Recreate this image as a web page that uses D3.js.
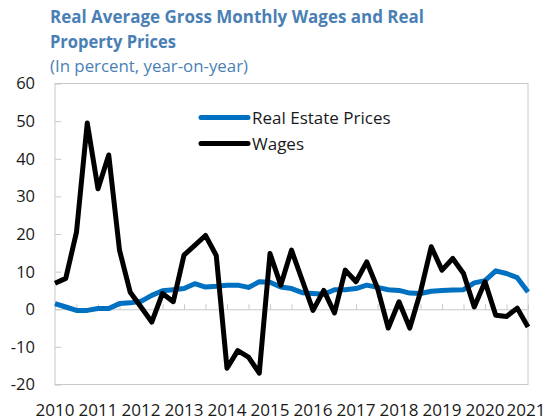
<!DOCTYPE html>
<html>
<head>
<meta charset="utf-8">
<script src="https://cdn.jsdelivr.net/npm/d3@7"></script>
<style>
  html, body { margin: 0; padding: 0; background: #fff; }
  svg { display: block; font-family: "Open Sans", "Noto Sans", sans-serif; }
</style>
</head>
<body>
<svg id="chart" width="546" height="420"></svg>
<script>
// Quarterly observations, 2010Q1 .. 2021Q1
const startYear = 2010;
const realEstatePrices = [
  1.5, 0.6, -0.3, -0.3, 0.2, 0.2, 1.5, 1.7, 2.1, 3.7, 4.9, 5.2,
  5.5, 6.8, 5.9, 6.1, 6.4, 6.4, 5.8, 7.3, 7.2, 5.9, 5.5, 4.4,
  4.2, 4.0, 5.2, 5.2, 5.5, 6.4, 5.8, 5.2, 5.0, 4.3, 4.2, 4.8,
  5.0, 5.1, 5.2, 7.0, 7.6, 10.2, 9.5, 8.4, 4.6
];
const wages = [
  6.9, 8.2, 20.5, 49.5, 32.0, 41.0, 15.7, 4.5, 0.6, -3.4, 4.2, 2.0,
  14.4, 17.0, 19.6, 14.3, -15.7, -11.0, -12.7, -17.0, 14.8, 6.4, 15.7, 7.7,
  -0.3, 5.0, -1.0, 10.4, 7.3, 12.6, 5.6, -5.0, 2.0, -5.0, 4.6, 16.6,
  10.4, 13.5, 9.5, 0.6, 7.3, -1.6, -1.9, 0.3, -4.7
];
const yearLabels = ["2010","2011","2012","2013","2014","2015","2016","2017","2018","2019","2020","2021"];
const yTicks = [-20, -10, 0, 10, 20, 30, 40, 50, 60];
const seriesNames = ["Real Estate Prices", "Wages"];
const seriesColors = ["#0070c0", "#000000"];

const svg = d3.select("#chart");
const W = 546;
const plotLeft = 55, plotRight = 528, plotTop = 83.5, plotBottom = 384.5;

const x = d3.scaleLinear().domain([2010, 2021]).range([plotLeft, plotRight]);
const y = d3.scaleLinear().domain([-20, 60]).range([plotBottom, plotTop]);
const axisGrey = "#c8c8c8";

// Title block
const titleColor = "#4a7fb5";
const t1 = svg.append("text").attr("x", 50).attr("y", 23)
  .attr("font-size", 17.5).attr("font-weight", 700).attr("fill", titleColor)
  .text("Real Average Gross Monthly Wages and Real");
const t2 = svg.append("text").attr("x", 50).attr("y", 48)
  .attr("font-size", 17.5).attr("font-weight", 700).attr("fill", titleColor)
  .text("Property Prices");
const t3 = svg.append("text").attr("x", 50).attr("y", 72)
  .attr("font-size", 16).attr("fill", titleColor)
  .text("(In percent, year-on-year)");
// keep the title lines at their set widths
[[t1, 374], [t2, 126], [t3, 198]].forEach(([t, w]) => {
  t.attr("textLength", w).attr("lengthAdjust", "spacingAndGlyphs");
});

// Plot frame
svg.append("rect").attr("x", plotLeft).attr("y", plotTop)
  .attr("width", plotRight - plotLeft).attr("height", plotBottom - plotTop)
  .attr("fill", "none").attr("stroke", axisGrey).attr("stroke-width", 1);

// Y axis with inward ticks
const yAxis = d3.axisRight(y).tickValues(yTicks).tickSize(6).tickFormat("");
const yG = svg.append("g").attr("transform", `translate(${plotLeft},0)`).call(yAxis);
yG.select(".domain").remove();
yG.selectAll("line").attr("stroke", axisGrey);

svg.append("g").selectAll("text").data(yTicks).join("text")
  .attr("x", 35).attr("y", d => y(d)).attr("dy", "0.36em")
  .attr("text-anchor", "end").attr("font-size", 16.5).attr("fill", "#1a1a1a")
  .text(d => d);

// Zero line with half-year ticks
const halfYears = d3.range(1, 22).map(k => startYear + k * 0.5);
const xAxis = d3.axisTop(x).tickValues(halfYears).tickSize(5).tickFormat("");
const xG = svg.append("g").attr("transform", `translate(0,${y(0)})`).call(xAxis);
xG.select(".domain").attr("stroke", axisGrey);
xG.selectAll("line").attr("stroke", axisGrey);

// Year labels below the frame (last one kept inside the canvas)
const labelW = 39;
svg.append("g").selectAll("text").data(yearLabels).join("text")
  .attr("x", d => Math.min(x(+d), W - labelW / 2 - 0.5)).attr("y", 415.5)
  .attr("text-anchor", "middle").attr("font-size", 16).attr("fill", "#1a1a1a")
  .attr("textLength", labelW).attr("lengthAdjust", "spacingAndGlyphs")
  .text(d => d);

// Series lines
const line = d3.line()
  .x((d, i) => x(startYear + i * 0.25))
  .y(d => y(d))
  .curve(d3.curveLinear);

[realEstatePrices, wages].forEach((s, k) => {
  svg.append("path").datum(s)
    .attr("d", line)
    .attr("fill", "none")
    .attr("stroke", seriesColors[k])
    .attr("stroke-width", 5)
    .attr("stroke-linejoin", "round")
    .attr("stroke-linecap", "butt");
});

// Legend
const legend = svg.append("g");
seriesNames.forEach((name, k) => {
  const ly = 117.5 + k * 26;
  legend.append("line")
    .attr("x1", 201).attr("x2", 248).attr("y1", ly).attr("y2", ly)
    .attr("stroke", seriesColors[k]).attr("stroke-width", 5).attr("stroke-linecap", "round");
  legend.append("text")
    .attr("x", 252).attr("y", ly).attr("dy", "0.36em")
    .attr("font-size", 17).attr("fill", "#1a1a1a")
    .text(name);
});
</script>
</body>
</html>
